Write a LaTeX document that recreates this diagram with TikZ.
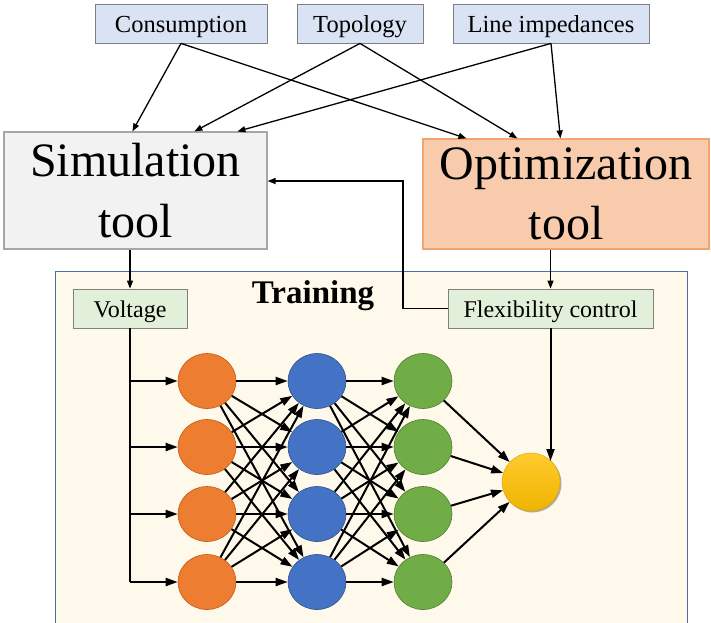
\documentclass[tikz,border=0pt]{standalone}
\usepackage{fontspec}
\setmainfont{Liberation Serif}
\usetikzlibrary{arrows.meta,shapes.geometric,shadows}

\definecolor{inbox}{HTML}{DAE3F3}
\definecolor{inedge}{HTML}{7F7F7F}
\definecolor{simfill}{HTML}{F2F2F2}
\definecolor{simedge}{HTML}{A6A6A6}
\definecolor{optfill}{HTML}{F8CBAD}
\definecolor{optedge}{HTML}{F0A572}
\definecolor{trainfill}{HTML}{FEF9EA}
\definecolor{trainedge}{HTML}{4A6EA8}
\definecolor{iofill}{HTML}{E2F0D9}
\definecolor{ioedge}{HTML}{808080}
\definecolor{nnorange}{HTML}{ED7D31}
\definecolor{nnorangeedge}{HTML}{C55A11}
\definecolor{nnblue}{HTML}{4472C4}
\definecolor{nnblueedge}{HTML}{2F528F}
\definecolor{nngreen}{HTML}{70AD47}
\definecolor{nngreenedge}{HTML}{507E32}
\definecolor{outtop}{HTML}{FFCB2E}
\definecolor{outbot}{HTML}{EFB300}

\begin{document}
\begin{tikzpicture}[x=1pt,y=-1pt,
  inputbox/.style={draw=inedge, line width=0.8pt, fill=inbox, minimum height=39pt,
    inner sep=0pt, text height=17pt, text depth=0pt, font=\fontsize{24.5}{28}\selectfont},
  toolbox/.style={line width=1.2pt, inner sep=0pt, align=center},
  iobox/.style={draw=ioedge, fill=iofill, line width=0.8pt, minimum height=39pt,
    inner sep=0pt, text height=17pt, text depth=0pt, font=\fontsize{24}{28}\selectfont},
  neuron/.style={ellipse, minimum width=58pt, minimum height=55pt, inner sep=0pt, line width=0.6pt},
  feed/.style={-{Triangle[length=8pt,width=6pt]}, line width=1.3pt},
  link/.style={-{Triangle[length=12pt,width=8pt]}, line width=2pt}]

\useasboundingbox (0,0) rectangle (711,622);

% training frame in the background
\node[draw=trainedge, fill=trainfill, line width=1pt, minimum width=632pt, minimum height=353pt,
  inner sep=0pt, anchor=north west] (train) at (55,271) {};
\node[font=\bfseries\fontsize{33}{36}\selectfont, anchor=base] (trainlab) at (313,303) {Training};

% input data
\node[inputbox, minimum width=172pt] (cons) at (181,23.5) {Consumption};
\node[inputbox, minimum width=126pt] (topo) at (360,23.5) {Topology};
\node[inputbox, minimum width=196pt] (line) at (551,23.5) {Line impedances};

% tools
\node[toolbox, draw=simedge, fill=simfill, minimum width=263pt, minimum height=117pt,
  font=\fontsize{48}{61}\selectfont] (sim) at (135.5,190.5) {Simulation\\tool};
\node[toolbox, draw=optedge, fill=optfill, minimum width=286pt, minimum height=110pt,
  font=\fontsize{48}{60}\selectfont] (opt) at (566,194) {Optimization\\tool};

% training data
\node[iobox, minimum width=114pt] (volt) at (130,308.5) {Voltage};
\node[iobox, minimum width=205pt] (flex) at (550.5,308.5) {Flexibility control};

% network layers
\foreach \i/\y in {1/381,2/447,3/514,4/582}{
  \node[neuron, fill=nnorange, draw=nnorangeedge] (o\i) at (207,\y) {};
  \node[neuron, fill=nnblue, draw=nnblueedge] (b\i) at (317,\y) {};
  \node[neuron, fill=nngreen, draw=nngreenedge] (g\i) at (423,\y) {};
}
\node[circle, minimum size=58pt, inner sep=0pt, top color=outtop, bottom color=outbot,
  draw=outbot!90!black, line width=0.4pt,
  drop shadow={shadow xshift=1.5pt, shadow yshift=-1.5pt, opacity=0.3, fill=black}] (out) at (531,482) {};

% data flow into the tools
\draw[feed] (cons.south) -- ([xshift=129pt]sim.north west);
\draw[feed] (cons.south) -- ([xshift=44pt]opt.north west);
\draw[feed] (topo.south) -- ([xshift=191pt]sim.north west);
\draw[feed] (topo.south) -- ([xshift=95pt]opt.north west);
\draw[feed] (line.south) -- ([xshift=234pt]sim.north west);
\draw[feed] (line.south) -- ([xshift=138pt]opt.north west);

% tool outputs
\draw[feed] (volt.north |- sim.south) -- (volt.north);
\draw[feed] (flex.north |- opt.south) -- (flex.north);
\coordinate (turn) at (403,181);
\draw[feed, line width=1.6pt] (flex.west) -| (turn) -- (sim.east |- turn);

% inputs to the network
\draw[line width=2pt] (volt.south) -- (volt.south |- o4);
\foreach \i in {1,...,4}{
  \draw[link] (volt.south |- o\i) -- (o\i);
}

% fully connected layers
\foreach \i in {1,...,4}{
  \foreach \j in {1,...,4}{
    \draw[link] (o\i) -- (b\j);
    \draw[link] (b\i) -- (g\j);
  }
  \draw[link] (g\i) -- (out);
}

% target signal
\draw[link] (flex.south) -- (flex.south |- out.46);

\end{tikzpicture}
\end{document}
